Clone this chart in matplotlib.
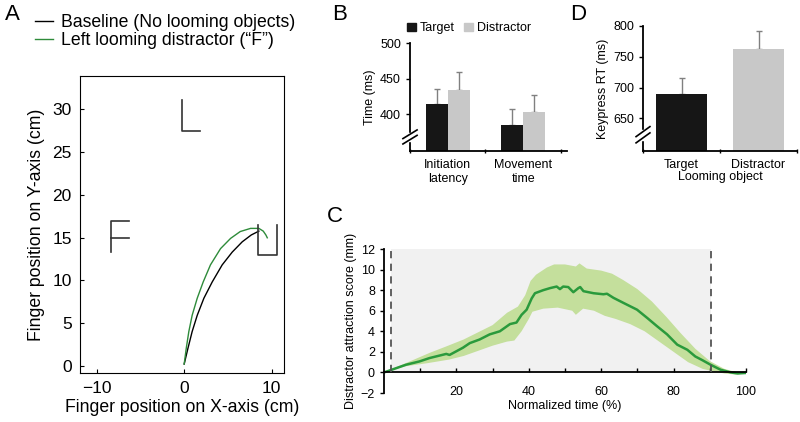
import matplotlib
matplotlib.use("Agg")
import matplotlib.pyplot as plt
from matplotlib.patches import Patch, Rectangle
from matplotlib.lines import Line2D

plt.rcParams['font.family'] = ['Liberation Sans', 'DejaVu Sans']

W, H = 800, 422

# ---- panel A: finger trajectories (cm) ----
base_x = [0, 0.42, 0.91, 1.49, 2.25, 3.2, 4.34, 5.49, 6.63, 7.66, 8.53]
base_y = [0.2, 2.0, 4.0, 5.9, 7.9, 9.8, 11.8, 13.3, 14.5, 15.3, 15.75]
loom_x = [0, 0.23, 0.53, 0.91, 1.49, 2.17, 3.0, 4.15, 5.3, 6.4, 7.58, 8.53, 9.03, 9.33, 9.49]
loom_y = [0.2, 2.0, 4.0, 5.9, 7.9, 9.8, 11.8, 13.7, 14.9, 15.7, 16.07, 16.07, 15.75, 15.3, 14.97]
letter_L = ([-0.3, -0.3, 1.75], [31.1, 27.5, 27.5])
letter_F = ([-6.3, -8.4, -8.4], [16.9, 16.9, 13.3])
letter_F_mid = ([-8.4, -6.3], [15.0, 15.0])
letter_U = ([8.4, 8.4, 10.55, 10.55], [16.5, 12.9, 12.9, 16.5])

# ---- panel B: initiation latency / movement time (ms) ----
b_groups = ["Initiation\nlatency", "Movement\ntime"]
b_target = [414.7, 384.3]
b_target_err = [20.0, 23.3]
b_distr = [434.3, 402.3]
b_distr_err = [24.7, 24.7]

# ---- panel D: keypress RT (ms) ----
d_cats = ["Target", "Distractor"]
d_vals = [689.3, 763.0]
d_err = [26.3, 28.5]

# ---- panel C: distractor attraction score over normalized time ----
c_x = [0, 6.1, 9.8, 12.6, 17.2, 18.1, 21.8, 23.7, 26.4, 29.2, 32, 34.8, 36.6, 38, 39.4,
       40.8, 41.7, 44, 45.9, 47.7, 48.6, 49.5, 50.9, 52.3, 53.7, 54.2, 55.1, 57.9, 60.6,
       61.6, 63.4, 66.2, 69.9, 72.7, 75.4, 78.2, 81, 83.8, 86, 87.9, 90.2, 93, 95.8, 97.7, 100]
c_mean = [0, 0.75, 1.07, 1.4, 1.8, 1.7, 2.4, 2.85, 3.2, 3.7, 4.0, 4.7, 4.85, 5.6, 6.1,
          7.2, 7.7, 8.0, 8.2, 8.35, 8.1, 8.35, 8.3, 7.8, 8.2, 8.3, 7.9, 7.7, 7.6,
          7.65, 7.25, 6.75, 6.1, 5.3, 4.5, 3.7, 2.7, 2.2, 1.55, 1.2, 0.75, 0.26, 0, -0.1, -0.05]
c_up_x = [0, 6, 12.6, 17, 22, 26, 30, 34, 37, 39, 40.5, 42, 45, 47, 50, 53, 54, 56, 60, 63,
          66, 70, 74, 78, 82, 86, 90, 94, 97, 100]
c_up = [0, 0.9, 1.9, 2.5, 3.2, 3.9, 4.6, 5.8, 6.4, 7.5, 8.9, 9.5, 10.2, 10.5, 10.5, 10.3,
        10.6, 10.1, 9.9, 9.6, 9.0, 8.1, 6.9, 5.4, 3.8, 2.3, 1.1, 0.35, 0.05, 0]
c_lo_x = [0, 6, 12, 18, 22, 26, 30, 34, 36, 38, 40, 41, 44, 48, 52, 53, 55, 58, 61, 64,
          68, 72, 76, 80, 84, 88, 91, 94, 97, 100]
c_lo = [0, 0.6, 0.9, 1.25, 1.6, 2.1, 2.6, 3.0, 3.1, 4.0, 5.2, 5.9, 6.2, 6.3, 6.0, 5.6,
        6.2, 6.0, 5.5, 5.2, 4.7, 4.0, 3.0, 2.0, 1.0, 0.35, 0.1, -0.1, -0.2, -0.1]
c_window = [2.0, 90.2]


def rect(l, t, r, b):
    return [l / W, 1 - b / H, (r - l) / W, (b - t) / H]


def add_break(ax, yfrac):
    kw = dict(transform=ax.transAxes, clip_on=False, color="black", lw=1.2)
    ax.add_patch(Rectangle((-0.03, yfrac - 0.04), 0.06, 0.08, transform=ax.transAxes,
                           color="white", clip_on=False, zorder=3))
    for dy in (-0.025, 0.025):
        ax.plot([-0.045, 0.045], [yfrac + dy - 0.04, yfrac + dy + 0.04], zorder=4, **kw)


fig = plt.figure(figsize=(W / 100, H / 100), dpi=100)
green = "#2e8b3a"

# ================= A =================
axA = fig.add_axes(rect(80, 76, 284, 373))
axA.plot(base_x, base_y, color="black", lw=1)
axA.plot(loom_x, loom_y, color=green, lw=1)
for lx, ly in (letter_L, letter_F, letter_F_mid, letter_U):
    axA.plot(lx, ly, color="#333333", lw=1.2)
axA.set_xlim(-11.9, 11.4)
axA.set_ylim(-0.85, 33.9)
axA.set_xticks([-10, 0, 10])
axA.set_xticklabels(["\u221210", "0", "10"])
axA.set_yticks([0, 5, 10, 15, 20, 25, 30])
axA.tick_params(labelsize=12.5, length=3, direction="in", pad=6)
axA.set_xlabel("Finger position on X-axis (cm)", fontsize=12.7, labelpad=2)
axA.set_ylabel("Finger position on Y-axis (cm)", fontsize=12.7, labelpad=5)
handles = [Line2D([], [], color="black", lw=1), Line2D([], [], color=green, lw=1)]
fig.legend(handles, ["Baseline (No looming objects)", "Left looming distractor (\u201cF\u201d)"],
           loc="upper left", bbox_to_anchor=(35 / W, 1 - 14 / H), frameon=False, fontsize=12.7,
           handlelength=1.0, handletextpad=0.5, labelspacing=0.05, borderaxespad=0, borderpad=0)
fig.text(5 / W, 1 - 4 / H, "A", fontsize=16, va="top")

# ================= B =================
axB = fig.add_axes(rect(410, 43, 567, 151))
bx = [0, 1]
bw = 0.29
axB.bar([x - bw / 2 for x in bx], b_target, bw, color="#161616", zorder=2)
axB.bar([x + bw / 2 for x in bx], b_distr, bw, color="#c8c8c8", zorder=2)
axB.errorbar([x - bw / 2 for x in bx], b_target, yerr=[[0, 0], b_target_err], fmt="none",
             ecolor="#808080", elinewidth=1, capsize=2.5, zorder=1)
axB.errorbar([x + bw / 2 for x in bx], b_distr, yerr=[[0, 0], b_distr_err], fmt="none",
             ecolor="#808080", elinewidth=1, capsize=2.5, zorder=1)
axB.set_ylim(348, 500)
axB.set_xlim(-0.5, 1.58)
axB.set_yticks([400, 450, 500])
axB.set_xticks([-0.5, 0.5, 1.5])
axB.set_xticklabels([])
axB.set_xticks(bx, minor=True)
axB.set_xticklabels(b_groups, minor=True, fontsize=9)
axB.tick_params(axis="x", which="minor", length=0, pad=6)
axB.tick_params(axis="x", which="major", length=3, width=1, direction="inout")
axB.tick_params(axis="y", labelsize=9, length=3, width=1)
for s in ("top", "right"):
    axB.spines[s].set_visible(False)
for s in ("left", "bottom"):
    axB.spines[s].set_linewidth(1.3)
axB.set_ylabel("Time (ms)", fontsize=9, labelpad=3)
add_break(axB, 0.13)
axB.legend([Patch(color="#161616"), Patch(color="#c8c8c8")], ["Target", "Distractor"],
           loc="lower left", bbox_to_anchor=(-0.02, 1.08), ncol=2, frameon=False, fontsize=9,
           handlelength=0.7, handleheight=0.7, handletextpad=0.3, columnspacing=0.8,
           borderaxespad=0, borderpad=0)
fig.text(332 / W, 1 - 4 / H, "B", fontsize=16, va="top")

# ================= D =================
axD = fig.add_axes(rect(643, 26, 797, 151))
dx = [0, 1]
axD.bar(dx, d_vals, 0.65, color=["#161616", "#c8c8c8"], zorder=2)
axD.errorbar(dx, d_vals, yerr=[[0, 0], d_err], fmt="none", ecolor="#808080",
             elinewidth=1, capsize=2.5, zorder=1)
axD.set_ylim(597, 800)
axD.set_xlim(-0.5, 1.5)
axD.set_yticks([650, 700, 750, 800])
axD.set_xticks([-0.5, 0.5, 1.5])
axD.set_xticklabels([])
axD.set_xticks(dx, minor=True)
axD.set_xticklabels(d_cats, minor=True, fontsize=9)
axD.tick_params(axis="x", which="minor", length=0, pad=6)
axD.tick_params(axis="x", which="major", length=3, width=1, direction="inout")
axD.tick_params(axis="y", labelsize=9, length=3, width=1)
for s in ("top", "right"):
    axD.spines[s].set_visible(False)
for s in ("left", "bottom"):
    axD.spines[s].set_linewidth(1.3)
axD.set_ylabel("Keypress RT (ms)", fontsize=9, labelpad=3)
axD.set_xlabel("Looming object", fontsize=9, labelpad=0)
add_break(axD, 0.13)
fig.text(570 / W, 1 - 4 / H, "D", fontsize=16, va="top")

# ================= C =================
axC = fig.add_axes(rect(384, 249, 746, 393))
axC.add_patch(Rectangle((c_window[0], 0), c_window[1] - c_window[0], 12,
                        color="#f1f1f1", zorder=0, lw=0))
axC.fill(c_up_x + c_lo_x[::-1], c_up + c_lo[::-1], color="#c4df9c", lw=0, zorder=1)
axC.plot(c_x, c_mean, color="#2a9a3c", lw=1.8, zorder=2)
for xv in c_window:
    axC.plot([xv, xv], [0, 12], color="#555555", lw=1.3, ls=(0, (4, 3)), zorder=3)
axC.set_xlim(0, 100)
axC.set_ylim(-2, 12)
axC.set_yticks(range(-2, 13, 2))
axC.set_xticks(range(10, 101, 10))
axC.set_xticklabels(["" if v % 20 else str(v) for v in range(10, 101, 10)])
axC.spines["bottom"].set_position(("data", 0))
axC.spines["bottom"].set_linewidth(1.3)
axC.spines["left"].set_linewidth(1.3)
for s in ("top", "right"):
    axC.spines[s].set_visible(False)
axC.tick_params(axis="x", direction="in", length=3, width=1, labelsize=9, pad=10)
axC.tick_params(axis="y", length=3, width=1, labelsize=9)
axC.set_xlabel("Normalized time (%)", fontsize=9, labelpad=1)
axC.set_ylabel("Distractor attraction score (mm)", fontsize=9, labelpad=3)
fig.text(327 / W, 1 - 206 / H, "C", fontsize=16, va="top")

fig.savefig("out.png", dpi=100)
